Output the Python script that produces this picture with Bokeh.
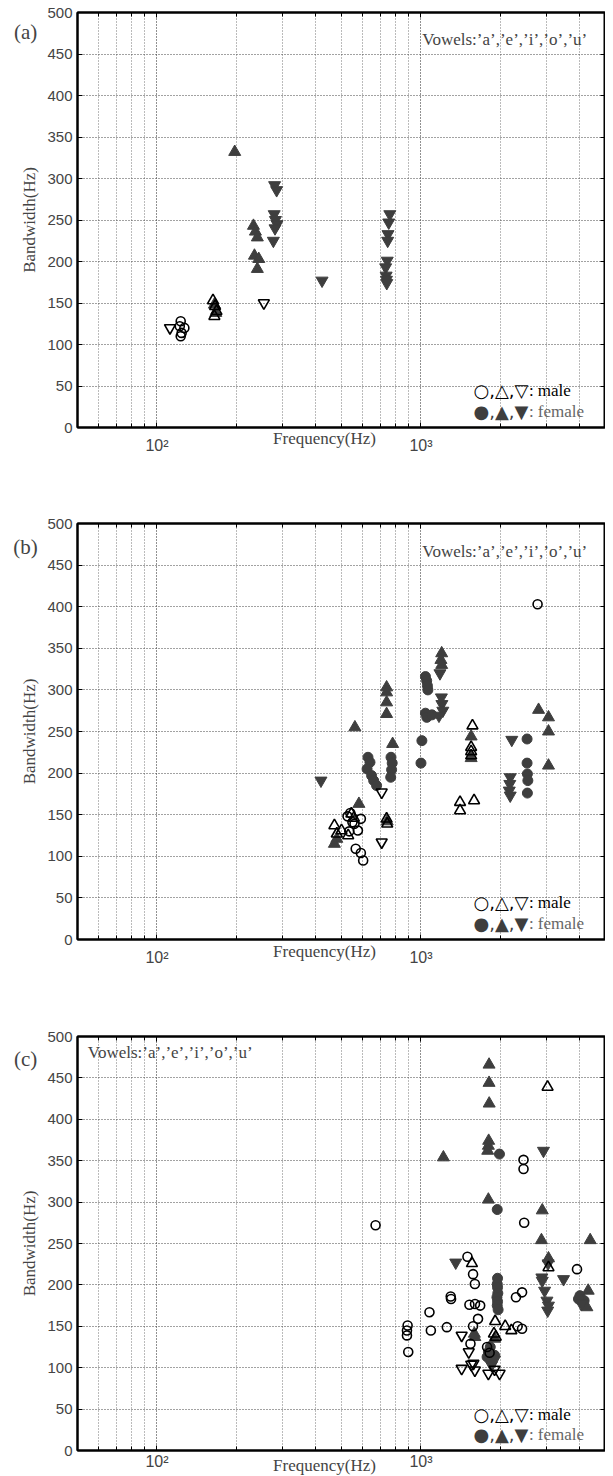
from bokeh.plotting import figure
from bokeh.models import FixedTicker, LogAxis, LinearAxis, Label, Range1d
from bokeh.layouts import column
from bokeh.embed import file_html
from bokeh.resources import INLINE

# ---------------- data (Hz) ----------------
# panel (a)
A_M_CIR_F = [123, 122, 127, 124, 123]
A_M_CIR_BW = [128, 122, 120, 114, 110]
A_M_UP_F = [163, 166, 168, 165]
A_M_UP_BW = [153, 146, 140, 134]
A_M_DN_F = [112, 254]
A_M_DN_BW = [120, 150]
A_F_CIR_F = []
A_F_CIR_BW = []
A_F_UP_F = [197, 232, 236, 240, 234, 243, 240, 165, 167]
A_F_UP_BW = [332, 243, 236, 229, 207, 203, 191, 148, 138]
A_F_DN_F = [279, 284, 278, 281, 285, 280, 276, 422, 762, 755, 750, 748, 745, 735, 738, 740, 742]
A_F_DN_BW = [292, 286, 257, 250, 245, 240, 225, 177, 257, 247, 233, 225, 201, 193, 183, 178, 174]

# panel (b)
B_M_CIR_F = [2765, 592, 577, 566, 592, 604, 540, 550, 560, 527, 535]
B_M_CIR_BW = [403, 145, 131, 109, 104, 95, 152, 141, 139, 148, 130]
B_M_UP_F = [545, 557, 470, 500, 480, 530, 741, 745, 1406, 1406, 1589, 1567, 1549, 1549, 1549]
B_M_UP_BW = [151, 146, 137, 131, 127, 125, 145, 139, 165, 155, 167, 257, 231, 226, 221]
B_M_DN_F = [710, 710]
B_M_DN_BW = [177, 117]
B_F_CIR_F = [630, 641, 625, 650, 662, 679, 770, 778, 774, 768, 1040, 1051, 1058, 1062,
             1040, 1052, 1100, 1008, 1000, 2523, 2523, 2530, 2540, 2530]
B_F_CIR_BW = [219, 213, 205, 197, 191, 185, 219, 212, 204, 195, 316, 311, 305, 300,
              272, 267, 270, 239, 212, 241, 212, 199, 191, 176]
B_F_UP_F = [562, 582, 480, 470, 741, 741, 741, 741, 781, 1198, 1190, 1198, 1549, 1549,
            2789, 3041, 3041, 3041, 745]
B_F_UP_BW = [255, 163, 121, 115, 303, 297, 285, 271, 235, 344, 336, 330, 244, 218,
             276, 267, 250, 209, 142]
B_F_DN_F = [418, 1180, 1195, 1200, 1210, 1170, 2208, 2178, 2170, 2160, 2178]
B_F_DN_BW = [191, 320, 291, 283, 275, 269, 240, 195, 187, 179, 173]

# panel (c)
C_M_CIR_F = [673, 2460, 2446, 2446, 1500, 1575, 1600, 1296, 1300, 1077, 1090, 1253, 890, 885,
             885, 895, 1526, 1602, 1676, 1645, 1575, 1540, 2324, 2415, 2290, 2415, 3900, 1780, 1820]
C_M_CIR_BW = [272, 275, 351, 340, 234, 213, 201, 186, 183, 167, 145, 149, 151, 145,
              139, 119, 176, 177, 175, 159, 150, 129, 150, 147, 185, 191, 219, 125, 118]
C_M_UP_F = [3017, 1560, 1910, 2085, 2200, 1890, 1920, 3041]
C_M_UP_BW = [439, 226, 156, 150, 145, 141, 137, 221]
C_M_DN_F = [1426, 1517, 1426, 1580, 1550, 1600, 1800, 1985, 1900]
C_M_DN_BW = [139, 119, 99, 105, 104, 97, 93, 93, 98]
C_F_CIR_F = [1983, 1945, 1950, 1945, 1950, 1955, 1940, 1950, 1945, 1960, 1800, 1830, 1780,
             1850, 1900, 4000, 4150, 3950]
C_F_CIR_BW = [358, 291, 208, 201, 197, 190, 185, 180, 175, 170, 119, 125, 113,
              109, 115, 187, 181, 183]
C_F_UP_F = [1811, 1811, 1813, 1805, 1800, 1790, 1216, 1800, 2880, 2860, 4375, 3041, 1593,
            1600, 4300, 4250, 1900]
C_F_UP_BW = [466, 444, 419, 374, 368, 362, 354, 303, 290, 254, 254, 232, 141,
             137, 193, 173, 135]
C_F_DN_F = [2911, 1354, 3030, 2870, 2880, 2940, 3000, 3020, 3040, 3468, 4050, 1850, 1900]
C_F_DN_BW = [362, 227, 226, 209, 205, 193, 181, 169, 175, 207, 177, 103, 110]

PANEL_NAMES = ["(a)", "(b)", "(c)"]
VOWELS_TEXT = "Vowels:\u2019a\u2019,\u2019e\u2019,\u2019i\u2019,\u2019o\u2019,\u2019u\u2019"
X_MAJOR = [100, 1000]
X_MINOR = [60, 70, 80, 90, 200, 300, 400, 500, 600, 700, 800, 900, 2000, 3000, 4000]
X_LABELS = {100: "10\u00b2", 1000: "10\u00b3"}
Y_TICKS = list(range(0, 501, 50))

FEMALE = "#3e3e3e"
SERIF = "Liberation Serif"
SANS = "Liberation Sans"
PAD = "\u00a0" * 8   # shifts the centred x-axis title to the left, as in the reference


def make_panel(idx, series, frame_h, top, bottom, standoff, xlabel_standoff, vowel_xy,
               name_y, name_side):
    p = figure(x_axis_type="log", x_range=Range1d(50, 5000), y_range=Range1d(0, 500),
               frame_width=528, frame_height=frame_h,
               min_border_left=77, min_border_right=0,
               min_border_top=top, min_border_bottom=bottom,
               output_backend="svg", toolbar_location=None)
    p.outline_line_color = "black"
    p.outline_line_width = 2

    xt = FixedTicker(ticks=X_MAJOR, minor_ticks=X_MINOR)
    yt = FixedTicker(ticks=Y_TICKS)

    xa = p.xaxis[0]
    xa.ticker = xt
    xa.major_label_overrides = X_LABELS
    xa.major_label_text_font = SANS
    xa.major_label_text_font_size = "16px"
    xa.major_label_standoff = standoff
    xa.major_tick_in = 5
    xa.major_tick_out = 0
    xa.minor_tick_in = 4
    xa.minor_tick_out = 0
    xa.axis_line_width = 2
    xa.axis_label = "Frequency(Hz)" + PAD
    xa.axis_label_text_font = SERIF
    xa.axis_label_text_font_size = "17px"
    xa.axis_label_text_font_style = "normal"
    xa.axis_label_standoff = xlabel_standoff

    ya = p.yaxis[0]
    ya.ticker = yt
    ya.major_label_text_font = SANS
    ya.major_label_text_font_size = "15px"
    ya.major_tick_in = 5
    ya.major_tick_out = 0
    ya.minor_tick_in = 0
    ya.minor_tick_out = 0
    ya.axis_line_width = 2
    ya.axis_label = "Bandwidth(Hz)"
    ya.axis_label_text_font = SERIF
    ya.axis_label_text_font_size = "17px"
    ya.axis_label_text_font_style = "normal"
    ya.axis_label_standoff = 5

    top_ax = LogAxis(ticker=xt, major_label_text_font_size="1px", major_label_text_alpha=0,
                     major_label_standoff=0,
                     major_tick_in=5, major_tick_out=0, minor_tick_in=4, minor_tick_out=0,
                     axis_line_width=2)
    p.add_layout(top_ax, "above")
    right_ax = LinearAxis(ticker=yt, major_label_text_font_size="1px", major_label_text_alpha=0,
                          major_label_standoff=0,
                          major_tick_in=5, major_tick_out=0, minor_tick_in=0, minor_tick_out=0,
                          axis_line_width=2)
    p.add_layout(right_ax, "right")

    p.xgrid.ticker = xt
    p.ygrid.ticker = yt
    p.xgrid.grid_line_color = "#222222"
    p.xgrid.grid_line_dash = "1 2"
    p.xgrid.minor_grid_line_color = "#777777"
    p.xgrid.minor_grid_line_dash = "1 2"
    p.ygrid.grid_line_color = "#444444"
    p.ygrid.grid_line_dash = "1 2"

    (mcf, mcb, muf, mub, mdf, mdb, fcf, fcb, fuf, fub, fdf, fdb) = series
    # female (filled)
    if fcf:
        p.scatter(fcf, fcb, marker="circle", size=10, fill_color=FEMALE, line_color=FEMALE)
    p.scatter(fuf, fub, marker="triangle", size=12, fill_color=FEMALE, line_color=FEMALE)
    p.scatter(fdf, fdb, marker="inverted_triangle", size=12, fill_color=FEMALE, line_color=FEMALE)
    # male (open)
    p.scatter(mcf, mcb, marker="circle", size=9, fill_color=None, line_color="black", line_width=1.6)
    p.scatter(muf, mub, marker="triangle", size=11, fill_color=None, line_color="black", line_width=1.6)
    p.scatter(mdf, mdb, marker="inverted_triangle", size=11, fill_color=None, line_color="black", line_width=1.6)

    # panel name in the left margin (in a side panel so it is not clipped to the frame)
    p.add_layout(Label(x=31.8, y=name_y, text=PANEL_NAMES[idx], text_font=SERIF,
                       text_font_size="21px", text_align="center", text_baseline="middle"),
                 name_side)
    p.add_layout(Label(x=vowel_xy[0], y=vowel_xy[1], text=VOWELS_TEXT, text_font=SERIF,
                       text_font_size="17px", text_align="left", text_baseline="middle"))
    # legend text
    p.add_layout(Label(x=1581, y=44, text="\u25cb,\u25b3,\u25bd", text_font="DejaVu Sans",
                       text_font_size="18px", text_align="left", text_baseline="middle",
                       text_color="black"))
    p.add_layout(Label(x=2563, y=44, text=": male", text_font=SERIF,
                       text_font_size="17px", text_align="left", text_baseline="middle",
                       text_color="black"))
    p.add_layout(Label(x=1581, y=19.5, text="\u25cf,\u25b2,\u25bc", text_font="DejaVu Sans",
                       text_font_size="18px", text_align="left", text_baseline="middle",
                       text_color=FEMALE))
    p.add_layout(Label(x=2563, y=19.5, text=": female", text_font=SERIF,
                       text_font_size="17px", text_align="left", text_baseline="middle",
                       text_color="#666666"))
    return p


pa = make_panel(0, (A_M_CIR_F, A_M_CIR_BW, A_M_UP_F, A_M_UP_BW, A_M_DN_F, A_M_DN_BW,
                    A_F_CIR_F, A_F_CIR_BW, A_F_UP_F, A_F_UP_BW, A_F_DN_F, A_F_DN_BW),
                415, 12, 60, 9, -28, (1012, 468), 476, "below")
pb = make_panel(1, (B_M_CIR_F, B_M_CIR_BW, B_M_UP_F, B_M_UP_BW, B_M_DN_F, B_M_DN_BW,
                    B_F_CIR_F, B_F_CIR_BW, B_F_UP_F, B_F_UP_BW, B_F_DN_F, B_F_DN_BW),
                416, 36, 60, 9, -27, (1012, 466), 472, "above")
pc = make_panel(2, (C_M_CIR_F, C_M_CIR_BW, C_M_UP_F, C_M_UP_BW, C_M_DN_F, C_M_DN_BW,
                    C_F_CIR_F, C_F_CIR_BW, C_F_UP_F, C_F_UP_BW, C_F_DN_F, C_F_DN_BW),
                414, 37, 26, 2, -17, (54.7, 481), 473, "above")

layout = column(pa, pb, pc)
open("out.html", "w").write(file_html(layout, INLINE))
